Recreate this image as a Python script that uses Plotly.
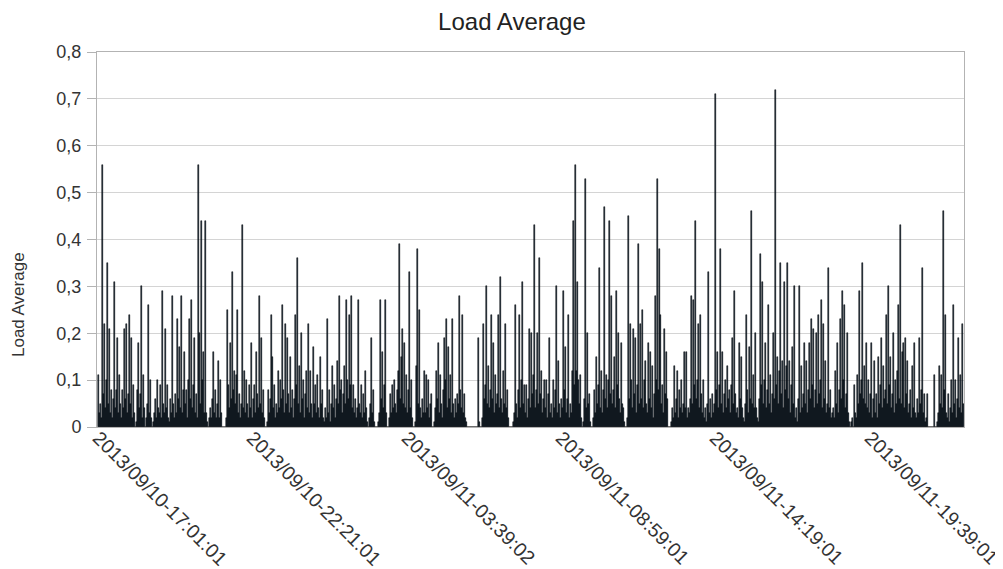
import plotly.graph_objects as go

# Load average samples (one per ~2 minutes)
seg_a = [0.11,0.03,0.05,0.02,0.56,0.07,0.22,0.04,0.10,0.35,0.05,0.21,0.03,0.08,0.02,0.06,0.31,0.04,0.08,0.19,
         0.03,0.11,0.05,0.02,0.08,0.04,0.21,0.06,0.22,0.03,0.07,0.24,0.05,0.19,0.02,0.09,0.03,0,0.01,0.08,
         0.18,0.04,0.07,0.30,0.02,0.11,0.04,0,0.02,0.05,0.26,0.03,0.10,0.02,0,0.01,0.03,0.06,0.02,0.10,
         0.04,0.03,0.09,0.02,0.29,0.05,0.03,0.21,0.04,0.09,0.02,0.01,0.06,0.03,0.28,0.05,0.02,0.07,0.03,0.23,
         0.06,0.17,0.04,0.28,0.03,0.08,0.16,0.05,0.08,0.02,0.10,0.23,0.06,0.27,0.04,0.09,0.19,0.03,0.07,0.02,
         0.56,0.20,0.05,0.44,0.10,0.16,0.03]
seg_b = [0.44,0.03,0.01,0,0.02,0.04,0.02,0.06,0.16,0.03,0.08,0.02,0.05,0.14,0.02,0.10,0.03,0,0,0,
         0,0.02,0.25,0.09,0.04,0.18,0.06,0.33,0.08,0.12,0.05,0.11,0.25,0.03,0.07,0.02,0.05,0.43,0.04,0.12,
         0.03,0.10,0.05,0.02,0.09,0.04,0.18,0.02,0.06,0.09,0.03,0.16,0.07,0.04,0.28,0.05,0.19,0.03,0.08,0.02,
         0,0,0.01,0.08,0.03,0.06,0.24,0.15,0.04,0.09,0.02,0.05,0.03,0.12,0.04,0.10,0.06,0.26,0.08,0.03,
         0.22,0.05,0.19,0.07,0.03,0.15,0.04,0.08,0.02,0.06,0.24,0.09,0.36,0.05,0.13,0.03,0.20,0.06,0.10,0.02,
         0.07,0.12,0.04,0.22,0.03,0.12,0.05,0.02,0.17,0.05]
seg_c = [0.09,0.03,0.11,0.04,0.02,0.15,0.05,0.08,0.02,0.01,0.04,0.02,0.23,0.03,0.08,0.01,0.05,0.13,0.04,0.09,
         0.02,0.06,0.14,0.05,0.28,0.08,0.10,0.03,0.07,0.13,0.05,0.27,0.10,0.06,0.24,0.09,0.28,0.04,0.09,0.03,
         0.06,0.02,0.04,0.27,0.05,0.03,0.09,0.02,0.07,0.03,0.12,0.04,0.01,0,0.02,0.05,0.19,0.03,0.08,0.01,
         0,0,0,0.01,0.03,0.27,0.06,0.16,0.04,0.09,0.27,0.03,0,0,0.02,0.07,0.03,0.09,0.04,0.10,
         0.05,0.03,0.08,0.12,0.39,0.06,0.15,0.21,0.05,0.18,0.04,0.11,0.03,0.08,0.33,0.04,0.10,0.02,0,0,
         0.01,0.13,0.38,0.05,0.25,0.04,0.02,0.06,0.03,0.12]
seg_d = [0.03,0.11,0.04,0.10,0.02,0.05,0.07,0,0,0.01,0.04,0.12,0.06,0.18,0.03,0.11,0.05,0.02,0.08,0.19,
         0.10,0.23,0.04,0.17,0.06,0.11,0.03,0.23,0.05,0.02,0.06,0.03,0.07,0.05,0.28,0.08,0.04,0.24,0.03,0.07,
         0.02,0.01,0,0,0,0,0,0,0,0,0,0,0,0.19,0.01,0,0,0.02,0.22,0.06,
         0.09,0.30,0.05,0.13,0.04,0.08,0.24,0.06,0.18,0.03,0.11,0.05,0.07,0.24,0.04,0.32,0.06,0.03,0.12,0.05,
         0.22,0.04,0.08,0.02,0,0,0,0,0.01,0.03,0.26,0.05,0.02,0.08,0.24,0.04,0.10,0.31,0.05,0.09,
         0.03,0.09,0.02,0.06,0.21,0.04,0.20,0.07,0.11,0.43]
seg_e = [0.04,0.08,0.20,0.05,0.36,0.07,0.12,0.03,0.06,0.10,0.04,0.10,0.02,0.07,0.19,0.03,0.05,0.02,0.10,0.04,
         0.08,0.30,0.03,0.14,0.05,0.02,0.06,0.04,0.29,0.08,0.17,0.03,0.06,0.24,0.02,0.05,0.03,0.12,0.44,0.09,
         0.56,0.12,0.31,0.10,0.05,0.11,0.02,0,0.01,0.06,0.53,0.04,0.20,0.05,0.07,0.01,0,0,0.02,0.08,
         0.03,0.15,0.05,0.09,0.34,0.04,0.12,0.03,0.08,0.47,0.06,0.11,0.04,0.10,0.44,0.07,0.28,0.05,0.08,0.15,
         0.04,0.29,0.09,0.20,0.06,0.03,0.18,0.05,0.04,0.01,0,0,0.02,0.45,0.06,0.22,0.10,0.04,0.21,0.07,
         0.19,0.03,0.09,0.39,0.05,0.22,0.06,0.25,0.04,0.10]
seg_f = [0.14,0.05,0.03,0.18,0.06,0.16,0.04,0.13,0.02,0.07,0.28,0.10,0.53,0.08,0.38,0.24,0.05,0.09,0.03,0.21,
         0.07,0.16,0.06,0,0,0,0.01,0.04,0.02,0.13,0.03,0.06,0.12,0.02,0.08,0.04,0.10,0.03,0.05,0.16,
         0.04,0.16,0.02,0.04,0.03,0.06,0.28,0.05,0.27,0.09,0.44,0.06,0.10,0.22,0.04,0.24,0.07,0.03,0.10,0.02,
         0.04,0.01,0.05,0.33,0.03,0.06,0.02,0.07,0.03,0.05,0.71,0.08,0.16,0.04,0.09,0.38,0.05,0.16,0.03,0.07,
         0.10,0.04,0.13,0.06,0.08,0.03,0.09,0.19,0.05,0.29,0.07,0.03,0.04,0.02,0.18,0.06,0.15,0.04,0.02,0.01,
         0.05,0.24,0.08,0.03,0.17,0.06,0.46,0.05,0.11,0.04]
seg_g = [0.20,0.04,0.02,0.01,0.06,0.37,0.09,0.31,0.05,0.10,0.18,0.04,0.08,0.26,0.05,0.11,0.03,0.07,0.20,0.06,
         0.72,0.09,0.15,0.05,0.12,0.35,0.07,0.14,0.04,0.31,0.08,0.13,0.35,0.06,0.14,0.03,0.09,0.17,0.05,0.30,
         0.02,0.04,0.01,0.06,0.30,0.03,0.13,0.04,0.07,0.18,0.05,0.14,0.03,0.08,0.18,0.06,0.23,0.09,0.21,0.04,
         0.08,0.20,0.05,0.24,0.07,0.10,0.27,0.04,0.22,0.06,0.14,0.03,0.05,0.34,0.04,0.08,0.02,0.03,0.04,0.02,
         0.12,0.05,0.18,0.03,0.08,0.23,0.06,0.29,0.10,0.26,0.04,0.07,0.20,0.03,0.01,0,0.01,0.02,0,0.09,
         0.03,0.02,0.11,0.05,0.29,0.07,0.10,0.35,0.06,0.13]
seg_h = [0.05,0.18,0.04,0.10,0.03,0.07,0.18,0.02,0.06,0.14,0.03,0.07,0.02,0.15,0.05,0.09,0.19,0.04,0.13,0.06,
         0.08,0.24,0.05,0.30,0.09,0.15,0.04,0.07,0.20,0.03,0.10,0.05,0.12,0.26,0.06,0.43,0.05,0.16,0.18,0.04,
         0.19,0.07,0.14,0.03,0.05,0.08,0.02,0.13,0.04,0.18,0.03,0.02,0.06,0.03,0.19,0.05,0.08,0.34,0.03,0.07,
         0.01,0.02,0.07,0,0,0,0,0,0,0.11,0,0,0.01,0.03,0.13,0.05,0.11,0.04,0.46,0.08,
         0.24,0.03,0.02,0.07,0.01,0.04,0.10,0.03,0.26,0.05,0.10,0.02,0.06,0.19,0.04,0.11,0.03,0.22,0.05]

load = seg_a + seg_b + seg_c + seg_d + seg_e + seg_f + seg_g + seg_h
sample = list(range(len(load)))

# category labels shown on the x axis (sample index -> timestamp)
tick_samples = [0, 154, 309, 463, 617, 772]
tick_labels = ["2013/09/10-17:01:01", "2013/09/10-22:21:01", "2013/09/11-03:39:02",
               "2013/09/11-08:59:01", "2013/09/11-14:19:01", "2013/09/11-19:39:01"]

FONT = "Liberation Sans, Arial, sans-serif"

fig = go.Figure(go.Bar(
    x=sample, y=load,
    marker=dict(color="#0a1f33", line=dict(width=0.5, color="#000000")),
    name="Load Average",
))

# page has an 8px body margin, so the figure is sized 8px smaller
fig.update_layout(
    width=995, height=561,
    margin=dict(l=89, r=39, t=44, b=142, autoexpand=False),
    paper_bgcolor="white", plot_bgcolor="white",
    separators=",.",
    bargap=0, bargroupgap=0,
    showlegend=False,
    font=dict(family=FONT, color="#333333", size=18),
    title=dict(text="Load Average", x=0.5065, xanchor="center", y=0.975, yanchor="middle",
               font=dict(family=FONT, size=24, color="#222222")),
    annotations=[dict(
        text="Load Average", textangle=-90, showarrow=False,
        xref="paper", yref="paper", x=-0.0911, y=0.3253,
        xanchor="center", yanchor="middle",
        font=dict(family=FONT, size=17, color="#333333"),
    )],
)

fig.update_xaxes(
    range=[-1.5, len(load) - 0.5],
    tickmode="array", tickvals=tick_samples, ticktext=tick_labels,
    tickangle=45, ticks="", showgrid=False, zeroline=False,
    ticklabelstandoff=-9, automargin=False,
    showline=True, linecolor="#b3b3b3", linewidth=1, mirror=True,
    tickfont=dict(family=FONT, size=19.5, color="#333333"),
)

fig.update_yaxes(
    range=[0, 0.8], dtick=0.1, tick0=0,
    ticks="outside", ticklen=9, tickcolor="#b3b3b3", tickwidth=1,
    ticklabelstandoff=2, automargin=False,
    showgrid=True, gridcolor="#d4d4d4", gridwidth=1, zeroline=False,
    showline=True, linecolor="#b3b3b3", linewidth=1, mirror=True,
    tickfont=dict(family=FONT, size=18, color="#333333"),
)

fig.write_html("out.html")
